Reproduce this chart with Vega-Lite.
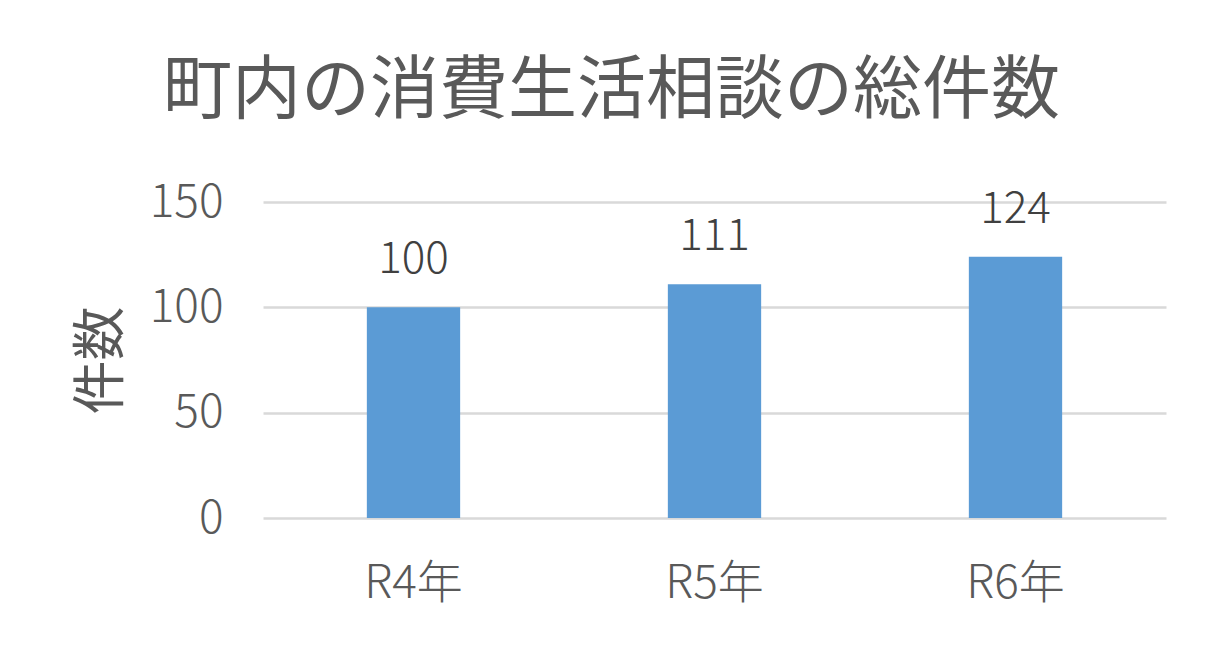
{
  "$schema": "https://vega.github.io/schema/vega-lite/v6.json",
  "autosize": "none",
  "width": 903,
  "height": 316,
  "padding": {"left": 263, "top": 202, "right": 55, "bottom": 130},
  "background": "white",
  "title": {
    "text": "町内の消費生活相談の総件数",
    "anchor": "middle",
    "dx": -103,
    "offset": 52,
    "fontSize": 69,
    "font": "Noto Sans CJK JP",
    "fontWeight": 400,
    "color": "#595959"
  },
  "data": {
    "values": [
      {"year": "R4年", "count": 100},
      {"year": "R5年", "count": 111},
      {"year": "R6年", "count": 124}
    ]
  },
  "encoding": {
    "x": {
      "field": "year",
      "type": "nominal",
      "sort": null,
      "scale": {"paddingInner": 0.69, "paddingOuter": 0.345},
      "axis": {
        "title": null,
        "labelAngle": 0,
        "labelPadding": 43,
        "labelFontSize": 46,
        "labelFont": "Noto Sans CJK JP",
        "labelFontWeight": 300,
        "labelColor": "#595959",
        "ticks": false,
        "domain": false,
        "grid": false
      }
    },
    "y": {
      "field": "count",
      "type": "quantitative",
      "scale": {"domain": [0, 150]},
      "axis": {
        "values": [0, 50, 100, 150],
        "title": "件数",
        "titleFontSize": 54,
        "titleFont": "Noto Sans CJK JP",
        "titleFontWeight": 400,
        "titleColor": "#595959",
        "titlePadding": 20,
        "labelPadding": 40,
        "labelFontSize": 46,
        "labelFont": "Noto Sans CJK JP",
        "labelFontWeight": 300,
        "labelColor": "#595959",
        "ticks": false,
        "domain": false,
        "gridColor": "#D9D9D9",
        "gridWidth": 2.5
      }
    }
  },
  "layer": [
    {"mark": {"type": "bar", "color": "#5B9BD5"}},
    {
      "mark": {
        "type": "text",
        "baseline": "alphabetic",
        "dy": -34,
        "fontSize": 44,
        "font": "Noto Sans CJK JP",
        "fontWeight": 300,
        "color": "#404040"
      },
      "encoding": {"text": {"field": "count", "type": "quantitative"}}
    }
  ],
  "config": {"view": {"stroke": null}}
}
